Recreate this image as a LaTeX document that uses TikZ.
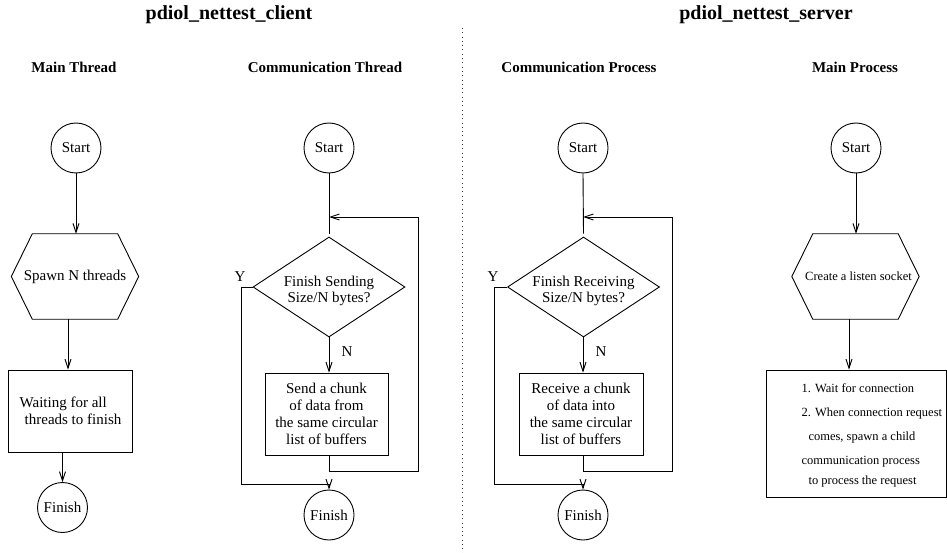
\documentclass[tikz,border=0pt]{standalone}
\usepackage{fontspec}
\setmainfont{Liberation Serif}
\usetikzlibrary{arrows.meta,shapes.geometric}

% outline of a flat hexagon around a (rectangular, undrawn) node
\newcommand\hexframe[1]{%
  \draw[line] (#1.west) -- ([xshift=21pt]#1.north west) -- ([xshift=-21pt]#1.north east)
    -- (#1.east) -- ([xshift=-21pt]#1.south east) -- ([xshift=21pt]#1.south west) -- cycle;}

\begin{document}
\begin{tikzpicture}[x=1pt,y=-1pt,
  every node/.style={font=\fontsize{15}{17}\selectfont},
  line/.style={draw=black,line width=0.9pt},
  arr/.style={line,-{Straight Barb[length=9pt,width=6pt]}},
  divider/.style={draw=black!80,line width=0.9pt,dash pattern=on 0.9pt off 3.4pt},
  term/.style={circle,line,minimum size=50pt,inner sep=0pt},
  decide/.style={diamond,line,aspect=1.52,minimum width=152pt,minimum height=100pt,inner sep=0pt},
  decidetext/.style={align=center,font=\fontsize{15}{16}\selectfont},
  procbox/.style={rectangle,line,inner sep=0pt,align=center},
  hexbox/.style={rectangle,minimum width=127pt,minimum height=85pt,inner sep=0pt},
  title/.style={font=\fontsize{20}{24}\selectfont\bfseries},
  subtitle/.style={font=\fontsize{15}{18}\selectfont\bfseries},
  small/.style={font=\fontsize{12.5}{24}\selectfont},
]
\useasboundingbox (0,0) rectangle (947,553);

% headings
\node[title] (tclient) at (229,15) {pdiol\_nettest\_client};
\node[title] (tserver) at (766,15) {pdiol\_nettest\_server};
\node[subtitle] (hmt) at (74,67) {Main Thread};
\node[subtitle] (hct) at (325,67) {Communication Thread};
\node[subtitle] (hcp) at (579,67) {Communication Process};
\node[subtitle] (hmp) at (855,67) {Main Process};

% separator between client and server
\coordinate (dtop) at (462,28);
\coordinate (dbot) at (462,553);
\draw[divider] (dtop) -- (dbot);

% ---- client: main thread
\node[term] (s1) at (76,148) {Start};
\node[hexbox] (h1) at (75,276.5) {Spawn N threads};
\hexframe{h1}
\node[procbox,minimum width=124pt,minimum height=82pt,align=left] (b1) at (70.5,411)
  {Waiting for all\\\hspace*{5pt}threads to finish};
\node[term] (f1) at (62.5,507.5) {Finish};
\draw[arr] (s1.south) -- (s1.south |- h1.north);
\draw[arr] ([xshift=-7pt]h1.south) -- ([xshift=-7pt]h1.south |- b1.north);
\draw[arr] ([xshift=-8pt]b1.south) -- (f1.north);

% ---- client: communication thread
\node[term] (s2) at (329,148) {Start};
\node[decide] (d2) at (329,287) {};
\node[decidetext] (d2t) at ([yshift=-4pt]d2.center) {Finish Sending\\Size/N bytes?};
\node[procbox,minimum width=123pt,minimum height=82pt] (b2) at (326.5,414)
  {Send a chunk\\of data from\\the same circular\\list of buffers};
\node[term] (f2) at (329,515) {Finish};
\node (y2) at (240,277) {Y};
\node (n2) at (347,352) {N};
\coordinate (r2) at (418,217);
\coordinate (c2) at (241,484);
\draw[line] (s2.south) -- ([yshift=3pt]d2.north);
\draw[arr] (d2.south) -- (d2.south |- b2.north);
\draw[arr] (d2.south |- b2.south) -- ++(0,16) -| (r2) -- (s2.south |- r2);
\draw[arr] (d2.west) -| (c2) -- (c2 -| f2.north) -- (f2.north);

% ---- server: communication process
\node[term] (s3) at (583,148) {Start};
\node[decide] (d3) at (583.5,287) {};
\node[decidetext] (d3t) at ([yshift=-4pt]d3.center) {Finish Receiving\\Size/N bytes?};
\node[procbox,minimum width=124pt,minimum height=82pt] (b3) at (581,414)
  {Receive a chunk\\of data into\\the same circular\\list of buffers};
\node[term] (f3) at (583,515) {Finish};
\node (y3) at (493,277) {Y};
\node (n3) at (601,352) {N};
\coordinate (r3) at (672,217);
\coordinate (c3) at (494,484);
\draw[line] (s3.south) -- ([yshift=3pt]d3.north);
\draw[arr] (s3.south |- d3.south) -- (s3.south |- b3.north);
\draw[arr] (s3.south |- b3.south) -- ++(0,16) -| (r3) -- (s3.south |- r3);
\draw[arr] (d3.west) -| (c3) -- (c3 -| f3.north) -- (f3.north);

% ---- server: main process
\node[term] (s4) at (856,148) {Start};
\node[hexbox,font=\fontsize{12.5}{15}\selectfont] (h4) at (855.5,276.5) {\hspace*{6pt}Create a listen socket};
\hexframe{h4}
\node[procbox,minimum width=180pt,minimum height=127pt] (b4) at (856,433.5) {};
\node[small,anchor=west,align=left] (t4) at (798,435)
  {1. Wait for connection\\2. When connection request\\\hspace*{7pt}comes, spawn a child\\communication process\\[-4pt]\hspace*{7pt}to process the request};
\draw[arr] (s4.south) -- (s4.south |- h4.north);
\draw[arr] ([xshift=-6.5pt]h4.south) -- ([xshift=-6.5pt]h4.south |- b4.north);
\end{tikzpicture}
\end{document}
